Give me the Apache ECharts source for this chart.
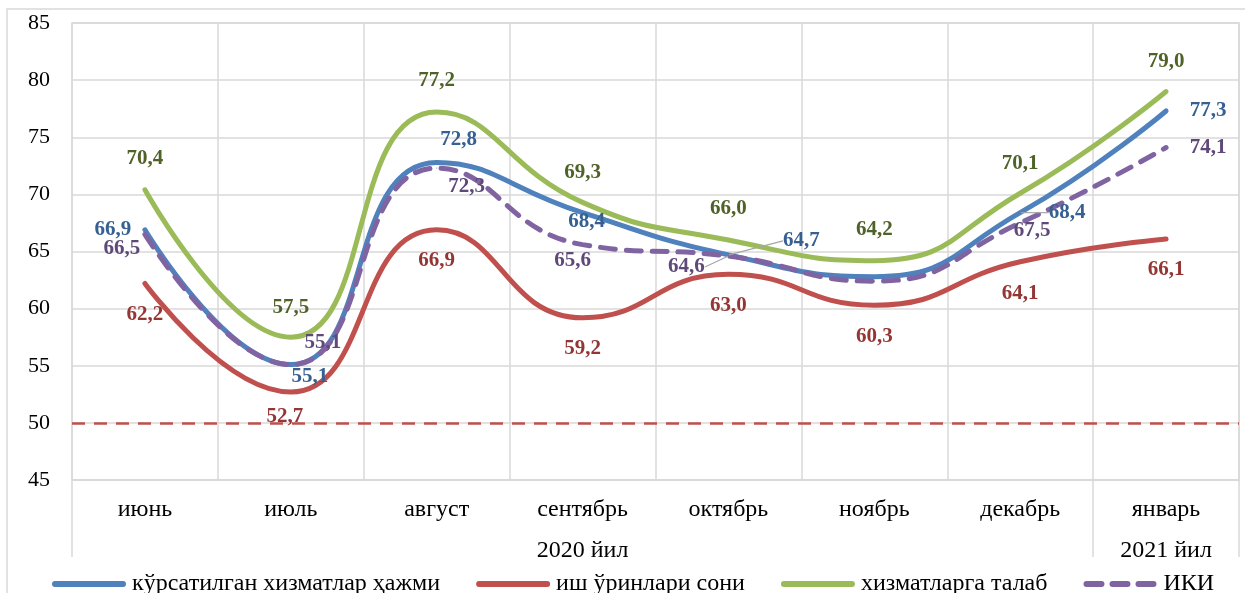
<!DOCTYPE html>
<html>
<head>
<meta charset="utf-8">
<script src="https://cdn.jsdelivr.net/npm/echarts@6/dist/echarts.min.js"></script>
<style>
html, body { margin: 0; padding: 0; background: #fff; }
#chart { width: 1245px; height: 593px; }
</style>
</head>
<body>
<div id="chart"></div>
<script>
// категориялар
const months = ['июнь', 'июль', 'август', 'сентябрь', 'октябрь', 'ноябрь', 'декабрь', 'январь']
const years = ['', '', '', '2020 йил', '', '', '', '2021 йил']
const yTicks = [45, 50, 55, 60, 65, 70, 75, 80, 85]
const threshold = 50

// серия қийматлари
const volume = [66.9, 55.1, 72.8, 68.4, 64.7, 62.8, 68.4, 77.3]
const jobs = [62.2, 52.7, 66.9, 59.2, 63.0, 60.3, 64.1, 66.1]
const demand = [70.4, 57.5, 77.2, 69.3, 66.0, 64.2, 70.1, 79.0]
const iki = [66.5, 55.1, 72.3, 65.6, 64.6, 62.4, 67.5, 74.1]

// ёрлиқлар силжиши (null - кўрсатилмайди)
const volumeOff = [[-32, 0], [19, 12], [22, -23], [4, 9], [73, -14], null, [47, 0], [42, 0]]
const jobsOff = [[0, 31], [-6, 25], [0, 31], [0, 31], [0, 31], [0, 31], [0, 32], [0, 31]]
const demandOff = [[0, -31], [0, -30], [0, -32], [0, -30], [0, -31], [0, -31], [0, -30], [0, -30]]
const ikiOff = [[-23, 14], [32, -22], [30, 18], [-10, 16], [-42, 11], null, [12, 8], [42, 0]]
const volumeGuide = [4, 6]
const ikiGuide = [4]

const font = "'Liberation Serif', 'Times New Roman', serif"

function makeSeries (name, values, offs, guides, lineColor, labelColor, dashed) {
  return {
    name: name,
    type: 'line',
    smooth: 0.5,
    symbol: 'circle',
    symbolSize: 1,
    itemStyle: { color: lineColor },
    lineStyle: {
      color: lineColor,
      width: 5,
      type: dashed ? [15, 11] : 'solid',
      cap: 'round'
    },
    label: {
      show: true,
      position: 'inside',
      fontFamily: font,
      fontWeight: 'bold',
      fontSize: 21,
      color: labelColor,
      formatter: p => p.value.toFixed(1).replace('.', ',')
    },
    labelLayout: p => {
      const o = offs[p.dataIndex]
      return o ? { dx: o[0], dy: o[1] } : {}
    },
    emphasis: { disabled: true },
    data: values.map((v, i) => {
      const item = { value: v }
      if (!offs[i]) item.label = { show: false }
      if (guides.indexOf(i) >= 0) {
        item.labelLine = { show: true, lineStyle: { color: '#a6a6a6', width: 1.2 } }
      }
      return item
    })
  }
}

const myChart = echarts.init(document.getElementById('chart'))
const red = makeSeries('иш ўринлари сони', jobs, jobsOff, [], '#C0504D', '#943634', false)
red.markLine = {
  silent: true,
  symbol: 'none',
  label: { show: false },
  lineStyle: { color: '#C0504D', width: 2.5, type: [13, 9] },
  data: [{ yAxis: threshold }]
}

const option = {
  animation: false,
  textStyle: { fontFamily: font },
  graphic: [{
    type: 'rect',
    silent: true,
    z: -10,
    shape: { x: 7, y: 9, width: 1400, height: 800 },
    style: { fill: 'none', stroke: '#d9d9d9', lineWidth: 1.5 }
  }],
  grid: {
    left: 72, right: 6, top: 23, bottom: 113,
    show: true, borderColor: '#d9d9d9', borderWidth: 1.5
  },
  legend: {
    left: 47,
    top: 567,
    itemWidth: 68,
    itemHeight: 20,
    itemGap: 36,
    itemStyle: { opacity: 0 },
    lineStyle: { width: 6, cap: 'round' },
    textStyle: { fontFamily: font, fontSize: 24, color: '#000', padding: [0, 0, 0, 4] },
    data: ['кўрсатилган хизматлар ҳажми', 'иш ўринлари сони', 'хизматларга талаб', 'ИКИ']
  },
  xAxis: [
    {
      type: 'category',
      data: months,
      position: 'bottom',
      axisLine: { show: true, lineStyle: { color: '#d9d9d9', width: 1.5 } },
      axisTick: { show: false },
      axisLabel: { interval: 0, margin: 18, fontFamily: font, fontSize: 24, color: '#000' },
      splitLine: { show: true, lineStyle: { color: '#d9d9d9', width: 1.5 } }
    },
    {
      type: 'category',
      data: years,
      position: 'bottom',
      axisLine: { show: false },
      axisTick: {
        show: true,
        interval: i => i === 0 || i === 7,
        length: 77,
        lineStyle: { color: '#d9d9d9', width: 1.5 }
      },
      axisLabel: { interval: 0, margin: 59, fontFamily: font, fontSize: 24, color: '#000' },
      splitLine: { show: false }
    }
  ],
  yAxis: {
    type: 'value',
    min: yTicks[0],
    max: yTicks[yTicks.length - 1],
    interval: 5,
    axisLine: { show: false },
    axisTick: { show: false },
    axisLabel: { margin: 22, fontFamily: font, fontSize: 22, color: '#000' },
    splitLine: { lineStyle: { color: '#d9d9d9', width: 1.5 } }
  },
  series: [
    makeSeries('кўрсатилган хизматлар ҳажми', volume, volumeOff, volumeGuide, '#4F81BD', '#376092', false),
    red,
    makeSeries('хизматларга талаб', demand, demandOff, [], '#9BBB59', '#4F6228', false),
    makeSeries('ИКИ', iki, ikiOff, ikiGuide, '#8064A2', '#5F497A', true)
  ]
}
myChart.setOption(option)
</script>
</body>
</html>
